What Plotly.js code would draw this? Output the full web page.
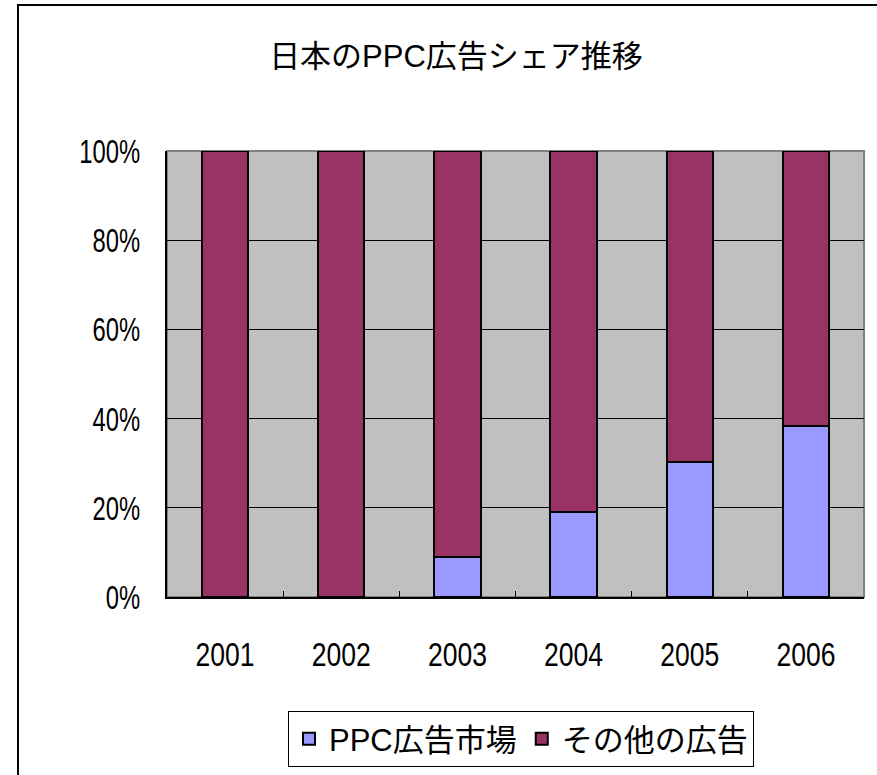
<!DOCTYPE html>
<html>
<head>
<meta charset="utf-8">
<script src="https://cdn.plot.ly/plotly-3.0.1.min.js"></script>
<style>html,body{margin:0;padding:0;background:#fff;}</style>
</head>
<body>
<div id="chart" style="width:877px;height:775px;"></div>
<script>
const years = ['2001', '2002', '2003', '2004', '2005', '2006'];
const ppcShare = [0, 0, 8.9, 19.1, 30.3, 38.3];
const otherShare = [100, 100, 91.1, 80.9, 69.7, 61.7];
const seriesNames = ['PPC広告市場', 'その他の広告'];
const titleText = '日本のPPC広告シェア推移';

const FONT = '"Liberation Sans", Arial, "Noto Sans CJK JP", sans-serif';

const traces = [
  {
    type: 'bar', name: seriesNames[0], x: years, y: ppcShare,
    marker: {color: '#9999ff', line: {color: '#000000', width: 2}},
    hoverinfo: 'skip'
  },
  {
    type: 'bar', name: seriesNames[1], x: years, y: otherShare,
    marker: {color: '#993366', line: {color: '#000000', width: 2}},
    hoverinfo: 'skip'
  }
];

const L = 167, R = 864, T = 151, B = 597;
const W = 877, H = 775;
const px = v => (v - L) / (R - L);
const py = v => (B - v) / (B - T);

const layout = {
  width: W, height: H,
  margin: {l: L, r: W - R, t: T, b: H - B, pad: 0, autoexpand: false},
  paper_bgcolor: '#ffffff',
  plot_bgcolor: '#c0c0c0',
  barmode: 'stack',
  bargap: 0.6,
  font: {family: FONT, color: '#000000', size: 30},
  title: {
    text: titleText,
    font: {family: FONT, size: 31, color: '#000000'},
    x: 456 / W, xanchor: 'center', xref: 'container',
    y: 1 - 56 / H, yanchor: 'middle', yref: 'container'
  },
  xaxis: {
    type: 'category',
    automargin: false,
    showgrid: false,
    showline: true, linecolor: '#000000', linewidth: 2,
    ticks: 'inside', tickson: 'boundaries', ticklen: 6, tickcolor: '#000000', tickwidth: 1,
    tickfont: {family: FONT, size: 34, color: '#000000'},
    ticklabelstandoff: 26,
    fixedrange: true
  },
  yaxis: {
    range: [0, 100],
    automargin: false,
    dtick: 20, tick0: 0,
    ticksuffix: '%',
    showgrid: true, gridcolor: '#000000', gridwidth: 1,
    zeroline: false,
    showline: true, linecolor: '#000000', linewidth: 2,
    ticks: 'inside', ticklen: 6, tickcolor: '#000000',
    tickfont: {family: FONT, size: 34, color: '#000000'},
    ticklabelstandoff: 18,
    fixedrange: true
  },
  showlegend: true,
  legend: {
    orientation: 'h',
    traceorder: 'normal',
    x: px(521), xanchor: 'center',
    y: py(711), yanchor: 'top',
    bordercolor: '#000000', borderwidth: 1,
    bgcolor: '#ffffff',
    font: {family: FONT, size: 31, color: '#000000'},
    itemwidth: 30
  },
  shapes: [
    {
      type: 'rect', xref: 'paper', yref: 'paper',
      x0: 0, x1: 1, y0: 0, y1: 1,
      line: {color: '#808080', width: 2}, layer: 'below'
    },
    {
      type: 'rect', xref: 'paper', yref: 'paper',
      x0: px(18), x1: px(890), y0: py(5), y1: py(800),
      line: {color: '#000000', width: 2}, fillcolor: 'rgba(0,0,0,0)'
    }
  ]
};

function condense(selector, ratio) {
  document.querySelectorAll(selector).forEach(t => {
    const len = t.getComputedTextLength();
    if (len > 0) {
      t.setAttribute('textLength', (len * ratio).toFixed(1));
      t.setAttribute('lengthAdjust', 'spacingAndGlyphs');
    }
  });
}

Plotly.newPlot('chart', traces, layout, {displayModeBar: false, staticPlot: true}).then(() => {
  condense('#chart .xtick text', 0.78);
  condense('#chart .ytick text', 0.70);
});
</script>
</body>
</html>
